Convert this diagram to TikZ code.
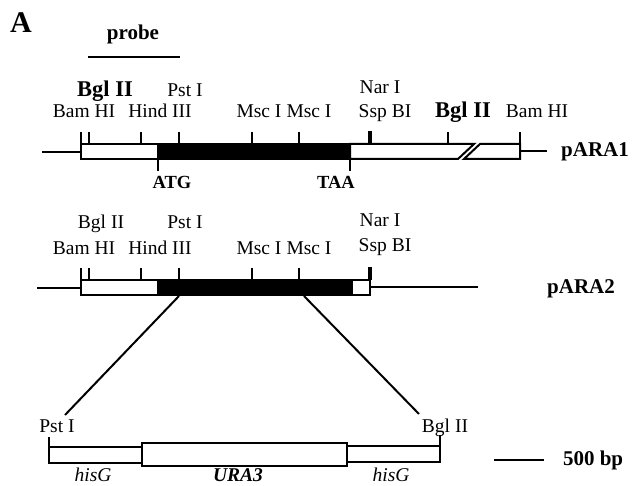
\documentclass[tikz,border=0pt]{standalone}
\usepackage{fontspec}
\setmainfont{Liberation Serif}
\begin{document}
\begin{tikzpicture}[x=1pt,y=-1pt,line width=2pt,
  lab/.style={font=\fontsize{19.5}{22}\selectfont,anchor=base,inner sep=0pt},
  blab/.style={font=\fontsize{21}{24}\selectfont\bfseries,anchor=base,inner sep=0pt},
  bgl/.style={font=\fontsize{22.5}{26}\selectfont\bfseries,anchor=base,inner sep=0pt},
  ilab/.style={font=\fontsize{19.5}{22}\selectfont\itshape,anchor=base,inner sep=0pt},
  bilab/.style={font=\fontsize{19.5}{22}\selectfont\bfseries\itshape,anchor=base,inner sep=0pt},
  thicktick/.style={line width=3.5pt},
  wbox/.style={draw,fill=white},
  bbox/.style={draw,fill=black}]
\useasboundingbox (0,0) rectangle (632,486);

% title and probe
\node[font=\fontsize{30}{34}\selectfont\bfseries,anchor=base,inner sep=0pt] (title) at (21,33) {A};
\node[blab] (probe) at (133,40) {probe};
\coordinate (prL) at (88,57);
\coordinate (prR) at (180,57);
\draw (prL) -- (prR);

% ---------------- pARA1 ----------------
\draw (42,152) -- (81,152);
\draw[wbox] (81,144) rectangle (158,159);
\draw[bbox] (158,144) rectangle (350,159);
\draw[wbox] (350,144) -- (474,144) -- (458,159) -- (350,159) -- cycle;
\draw[wbox] (480,144) -- (520,144) -- (520,159) -- (464,159) -- cycle;
\draw (520,151) -- (547,151);
\foreach \x in {81,89,141,179,252,299,448,520} \draw (\x,132) -- (\x,144);
\draw[thicktick] (370,131) -- (370,144);
\draw (158,159) -- (158,171);
\draw (350,159) -- (350,171);

\node[bgl] (a1bgl) at (105,97) {Bgl II};
\node[lab] (a1pst) at (185,97) {Pst I};
\node[lab] (a1bam) at (84,118) {Bam HI};
\node[lab] (a1hind) at (160,118) {Hind III};
\node[lab] (a1msc1) at (259,118) {Msc I};
\node[lab] (a1msc2) at (309,118) {Msc I};
\node[lab] (a1nar) at (380,94) {Nar I};
\node[lab] (a1ssp) at (385,118) {Ssp BI};
\node[bgl] (a1bgl2) at (463,118) {Bgl II};
\node[lab] (a1bam2) at (537,118) {Bam HI};
\node[blab,font=\fontsize{18.5}{22}\selectfont\bfseries] (atg) at (172,189) {ATG};
\node[blab,font=\fontsize{18.5}{22}\selectfont\bfseries] (taa) at (336,189) {TAA};
\node[blab,anchor=center] (para1) at (595,152) {pARA1};

% ---------------- pARA2 ----------------
\draw (37,288) -- (81,288);
\draw[wbox] (81,280) rectangle (158,295);
\draw[bbox] (158,280) rectangle (352,295);
\draw[wbox] (352,280) rectangle (370,295);
\draw (370,287) -- (478,287);
\foreach \x in {81,89,141,179,252,299} \draw (\x,268) -- (\x,280);
\draw[thicktick] (370,267) -- (370,280);

\node[lab] (a2bgl) at (101,229) {Bgl II};
\node[lab] (a2pst) at (185,229) {Pst I};
\node[lab] (a2bam) at (84,255) {Bam HI};
\node[lab] (a2hind) at (160,255) {Hind III};
\node[lab] (a2msc1) at (259,255) {Msc I};
\node[lab] (a2msc2) at (309,255) {Msc I};
\node[lab] (a2nar) at (380,227) {Nar I};
\node[lab] (a2ssp) at (385,252) {Ssp BI};
\node[blab,anchor=center] (para2) at (581,289) {pARA2};

% ---------------- connectors ----------------
\coordinate (p2pst) at (179,296);
\coordinate (p2msc) at (304,296);
\coordinate (cpst) at (65,415);
\coordinate (cbgl) at (419,414);
\draw (p2pst) -- (cpst);
\draw (p2msc) -- (cbgl);

% ---------------- cassette ----------------
\node[lab] (cpstl) at (57,432) {Pst I};
\node[lab] (cbgll) at (445,432) {Bgl II};
\draw (49,437) -- (49,447);
\draw[wbox] (49,447) rectangle (142,463);
\draw[wbox] (142,443) rectangle (347,466);
\draw[wbox] (347,446) rectangle (440,462);
\draw (440,435) -- (440,446);
\node[ilab] (hisg1) at (93,481) {hisG};
\node[bilab] (ura3) at (238,481) {URA3};
\node[ilab] (hisg2) at (391,481) {hisG};

% scale bar
\coordinate (sbL) at (494,460);
\coordinate (sbR) at (544,460);
\draw (sbL) -- (sbR);
\node[blab,anchor=base west] (bp) at (562,465) {500 bp};
\end{tikzpicture}
\end{document}
